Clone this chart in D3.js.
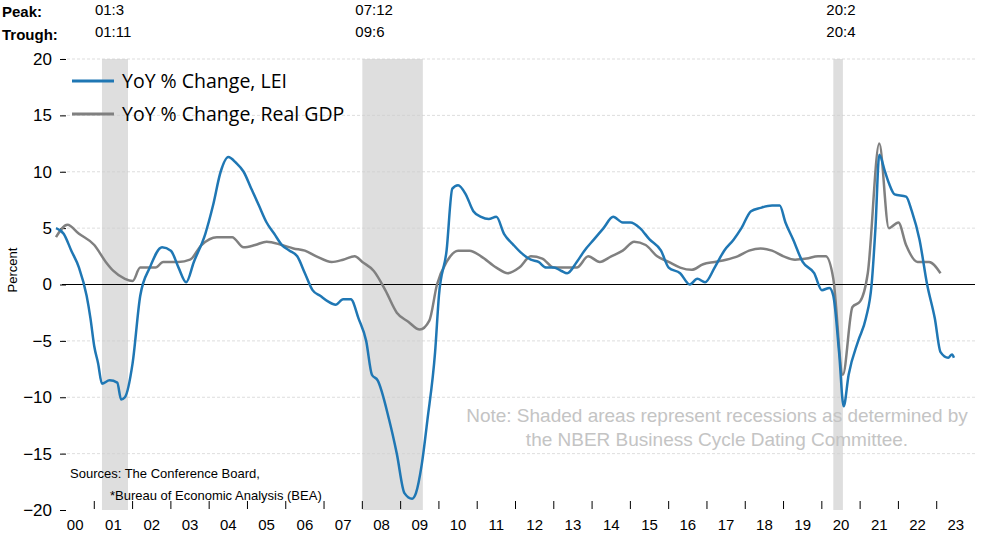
<!DOCTYPE html>
<html><head><meta charset="utf-8">
<script src="https://cdn.jsdelivr.net/npm/d3@7"></script>
<style>body{margin:0;background:#fff}svg{font-family:"Liberation Sans",Arial,sans-serif}</style>
</head><body><div id="c"></div>
<script>
const leiT = [2000.0,2000.2,2000.4,2000.6,2000.8,2000.9,2001.0,2001.1,2001.2,2001.4,2001.6,2001.7,2001.8,2002.0,2002.2,2002.45,2002.77,2003.0,2003.2,2003.4,2003.6,2003.9,2004.1,2004.3,2004.5,2004.7,2004.9,2005.1,2005.3,2005.5,2005.7,2005.9,2006.1,2006.3,2006.5,2006.7,2006.9,2007.1,2007.3,2007.5,2007.7,2007.9,2008.1,2008.25,2008.4,2008.7,2008.9,2009.1,2009.3,2009.4,2009.55,2009.7,2009.9,2010.0,2010.2,2010.35,2010.5,2010.7,2010.9,2011.1,2011.3,2011.5,2011.7,2011.95,2012.15,2012.4,2012.6,2012.8,2013.0,2013.2,2013.35,2013.6,2013.8,2014.05,2014.3,2014.55,2014.8,2015.0,2015.25,2015.5,2015.8,2016.0,2016.3,2016.55,2016.75,2016.95,2017.2,2017.45,2017.7,2017.9,2018.15,2018.4,2018.7,2018.9,2019.05,2019.25,2019.5,2019.8,2020.0,2020.2,2020.3,2020.45,2020.57,2020.7,2020.95,2021.15,2021.3,2021.4,2021.5,2021.65,2021.75,2021.9,2022.2,2022.35,2022.55,2022.75,2022.95,2023.1,2023.3,2023.4,2023.45];
const leiV = [5,4.5,3,1.5,-1,-3,-5.5,-7,-8.8,-8.5,-8.7,-10.2,-10,-7,-1,1.5,3.3,3,1.5,0.2,2,4.5,7,10,11.3,10.8,10,8.5,7,5.5,4.5,3.5,3,2.5,1,-0.5,-1,-1.5,-1.8,-1.3,-1.3,-3,-5,-8,-8.5,-12,-15,-18.5,-19,-18.5,-16,-12,-6,-1,3,8.5,8.8,8,6.5,6,5.8,6,4.5,3.5,2.8,2.2,2,1.5,1.5,1.2,1,2,3,4,5,6,5.5,5.5,5,4,3,1.5,1,0,0.5,0.2,1.5,3,4,5,6.5,6.8,7,7,5.5,4,2,1,-0.5,-0.3,-1,-6,-10.8,-8,-5,-3,0,5,11.5,10,9,8,7.8,6.5,4,0,-3,-6,-6.5,-6.2,-6.5];
const gdpT = [2000.0,2000.3,2000.6,2001.0,2001.3,2001.5,2001.8,2002.0,2002.2,2002.6,2002.8,2003.2,2003.5,2003.8,2004.2,2004.6,2004.9,2005.2,2005.5,2005.9,2006.2,2006.5,2006.8,2007.2,2007.5,2007.8,2008.0,2008.3,2008.6,2008.9,2009.2,2009.5,2009.75,2009.95,2010.2,2010.5,2010.8,2011.1,2011.5,2011.8,2012.1,2012.4,2012.7,2013.0,2013.3,2013.6,2013.9,2014.2,2014.5,2014.8,2015.1,2015.4,2015.7,2016.0,2016.3,2016.6,2016.9,2017.2,2017.5,2017.8,2018.1,2018.4,2018.7,2019.0,2019.3,2019.6,2019.9,2020.1,2020.3,2020.55,2020.8,2021.0,2021.2,2021.5,2021.75,2022.0,2022.2,2022.5,2022.8,2023.1];
const gdpV = [4.2,5.3,4.5,3.5,2,1.2,0.5,0.3,1.5,1.5,2,2,2.2,3.5,4.2,4.2,3.3,3.5,3.8,3.5,3.2,3,2.5,2,2.2,2.5,2,1.2,-0.5,-2.5,-3.3,-4,-3.2,0,2,3,3,2.5,1.5,1,1.5,2.5,2.3,1.5,1.5,1.5,2.5,2,2.5,3,3.8,3.5,2.5,2,1.5,1.3,1.8,2,2.2,2.5,3,3.2,3,2.5,2.2,2.3,2.5,2.5,0.5,-8,-2,-1.5,1,12.5,5,5.5,3.5,2,2,1];
const recessions = [[2001.2,2001.88],[2008.0,2009.58],[2020.3,2020.55]];
const peaks = ["01:3","07:12","20:2"];
const troughs = ["01:11","09:6","20:4"];
const yTicks = [20,15,10,5,0,-5,-10,-15,-20];
const yearLabels = d3.range(0,24).map(d=>String(d).padStart(2,"0"));

const W=990,H=537;
const svg=d3.select("#c").append("svg").attr("width",W).attr("height",H);
const x=d3.scaleLinear().domain([2000,2024]).range([56,975]);
const y=d3.scaleLinear().domain([-20,20]).range([510,59]);

svg.append("g").selectAll("rect").data(recessions).join("rect")
  .attr("x",d=>x(d[0])).attr("width",d=>x(d[1])-x(d[0]))
  .attr("y",y(20)).attr("height",y(-20)-y(20)).attr("fill","#dedede");

svg.append("g").selectAll("line").data(yTicks.filter(d=>d!==0&&d!==-20)).join("line")
  .attr("x1",62).attr("x2",975).attr("y1",d=>y(d)).attr("y2",d=>y(d))
  .attr("stroke","#cfcfcf").attr("stroke-width",0.7).attr("stroke-dasharray","3,2");
svg.append("line").attr("x1",62).attr("x2",975).attr("y1",y(0)).attr("y2",y(0)).attr("stroke","#000").attr("stroke-width",1);

const ya=svg.append("g").attr("transform","translate(66,0)")
  .call(d3.axisLeft(y).tickValues(yTicks).tickSize(6).tickPadding(8));
ya.select(".domain").remove();
ya.selectAll("text").attr("font-size",17).attr("fill","#000");
svg.append("text").attr("transform","translate(17,270) rotate(-90)").attr("text-anchor","middle")
  .attr("font-size",13).text("Percent");

svg.append("g").selectAll("line").data(d3.range(2001,2024)).join("line")
  .attr("x1",d=>x(d)).attr("x2",d=>x(d)).attr("y1",y(-20)-9).attr("y2",y(-20)-1)
  .attr("stroke","#000").attr("stroke-width",1);
svg.append("g").selectAll("text").data(yearLabels).join("text")
  .attr("x",(d,i)=>x(2000.5+i)).attr("y",530).attr("text-anchor","middle")
  .attr("font-size",15).attr("font-family","Liberation Sans Narrow, Arial Narrow, sans-serif").text(d=>d);

const line=d3.line().x(d=>x(d[0])).y(d=>y(d[1])).curve(d3.curveMonotoneX);
svg.append("path").datum(d3.zip(gdpT,gdpV)).attr("d",line).attr("fill","none").attr("stroke","#808080").attr("stroke-width",2.5);
svg.append("path").datum(d3.zip(leiT,leiV)).attr("d",line).attr("fill","none").attr("stroke","#1f77b4").attr("stroke-width",2.5);

const leg=[["YoY % Change, LEI","#1f77b4",81],["YoY % Change, Real GDP","#808080",114]];
leg.forEach(([t,c,yy])=>{
  svg.append("line").attr("x1",72).attr("x2",114).attr("y1",yy).attr("y2",yy).attr("stroke",c).attr("stroke-width",3);
  svg.append("text").attr("x",122).attr("y",yy+7).attr("font-size",19.5).attr("font-family","Open Sans, sans-serif").text(t);
});

svg.append("text").attr("x",2).attr("y",17).attr("font-size",15).attr("font-weight","bold").text("Peak:");
svg.append("text").attr("x",2).attr("y",40).attr("font-size",15).attr("font-weight","bold").text("Trough:");
recessions.forEach((r,i)=>{
  svg.append("text").attr("x",x(r[0])-7).attr("y",15).attr("font-size",15).text(peaks[i]);
  svg.append("text").attr("x",x(r[0])-7).attr("y",37).attr("font-size",15).text(troughs[i]);
});

svg.append("text").attr("x",717).attr("y",422).attr("text-anchor","middle").attr("font-size",19).attr("fill","#c4c4c4")
  .text("Note: Shaded areas represent recessions as determined by");
svg.append("text").attr("x",717).attr("y",446).attr("text-anchor","middle").attr("font-size",19).attr("fill","#c4c4c4")
  .text("the NBER Business Cycle Dating Committee.");
const sf="Liberation Sans Narrow, Arial Narrow, sans-serif";
svg.append("text").attr("x",70).attr("y",478).attr("font-size",13).attr("font-family",sf).text("Sources: The Conference Board,");
svg.append("text").attr("x",110).attr("y",500).attr("font-size",13).attr("font-family",sf).text("*Bureau of Economic Analysis (BEA)");
</script></body></html>
